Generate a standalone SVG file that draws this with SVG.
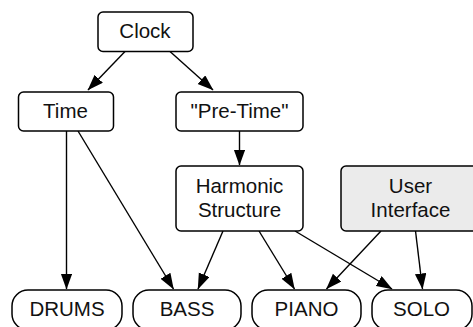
<svg xmlns="http://www.w3.org/2000/svg" width="473" height="327" viewBox="0 0 473 327">
  <style>
    .box { fill: #ffffff; stroke: #000000; stroke-width: 1.5; }
    .ui { fill: #ebebeb; }
    .pill { rx: 16px; }
    .lbl { font-family: "Liberation Sans", Arial, sans-serif; font-size: 20.5px; fill: #111111; text-anchor: middle; }
    .edge { stroke: #000000; stroke-width: 1.4; fill: none; marker-end: url(#arrow); }
  </style>
  <defs>
    <marker id="arrow" markerUnits="userSpaceOnUse" markerWidth="17" markerHeight="12" refX="15.5" refY="5.75" orient="auto">
      <path d="M0,0 L16,5.75 L0,11.5 z" fill="#000000"/>
    </marker>
  </defs>

  <g id="connectors">
    <line class="edge" x1="125" y1="51.5" x2="88" y2="90"/>
    <line class="edge" x1="170" y1="51.5" x2="213" y2="90"/>
    <line class="edge" x1="239.5" y1="131" x2="239.5" y2="165"/>
    <line class="edge" x1="66.5" y1="131" x2="66.5" y2="289"/>
    <line class="edge" x1="78" y1="131" x2="173.5" y2="289"/>
    <line class="edge" x1="223" y1="231" x2="198" y2="289"/>
    <line class="edge" x1="259" y1="231" x2="294.5" y2="289"/>
    <line class="edge" x1="295" y1="231" x2="392" y2="289"/>
    <line class="edge" x1="381" y1="231" x2="326.5" y2="289"/>
    <line class="edge" x1="415.5" y1="231" x2="422.5" y2="289"/>
  </g>

  <g id="clock">
    <rect class="box" x="98" y="12" width="95" height="39.5" rx="5"/>
    <text class="lbl" x="145" y="38">Clock</text>
  </g>
  <g id="time">
    <rect class="box" x="18.5" y="92" width="95" height="39" rx="5"/>
    <text class="lbl" x="65.5" y="117.5">Time</text>
  </g>
  <g id="pre-time">
    <rect class="box" x="176" y="92" width="127" height="39" rx="5"/>
    <text class="lbl" x="239.5" y="117.5">"Pre-Time"</text>
  </g>
  <g id="harmonic-structure">
    <rect class="box" x="176" y="166" width="127" height="65" rx="5"/>
    <text class="lbl" x="239.5" y="192.5">Harmonic</text>
    <text class="lbl" x="239.5" y="216.5">Structure</text>
  </g>
  <g id="user-interface">
    <rect class="box ui" x="341" y="166" width="138" height="65" rx="5"/>
    <text class="lbl" x="410.5" y="192.5">User</text>
    <text class="lbl" x="410.5" y="216.5">Interface</text>
  </g>
  <g id="drums">
    <rect class="box pill" x="12" y="290" width="110" height="40" rx="16"/>
    <text class="lbl" x="67" y="316">DRUMS</text>
  </g>
  <g id="bass">
    <rect class="box pill" x="133" y="290" width="108" height="40" rx="16"/>
    <text class="lbl" x="187" y="316">BASS</text>
  </g>
  <g id="piano">
    <rect class="box pill" x="252" y="290" width="109" height="40" rx="16"/>
    <text class="lbl" x="306.5" y="316">PIANO</text>
  </g>
  <g id="solo">
    <rect class="box pill" x="372" y="290" width="100" height="40" rx="16"/>
    <text class="lbl" x="421.5" y="316">SOLO</text>
  </g>
</svg>
